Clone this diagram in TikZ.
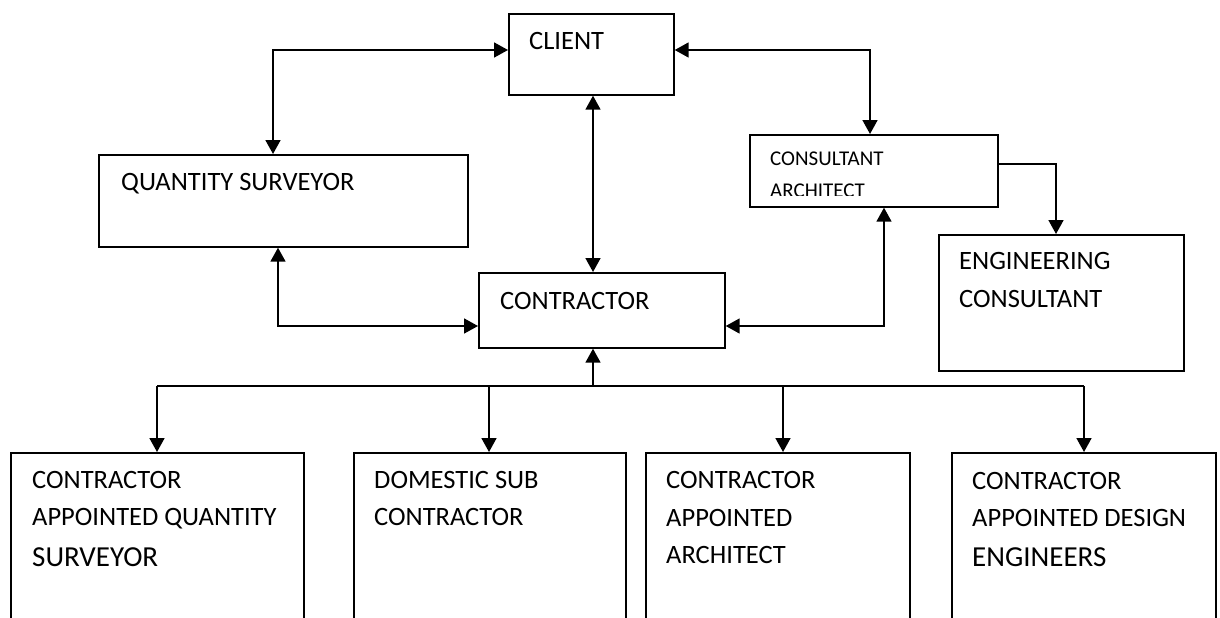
\documentclass[tikz,border=0pt]{standalone}
\usepackage{fontspec}
\setmainfont{Carlito}
\usetikzlibrary{arrows.meta}
\begin{document}
\begin{tikzpicture}[x=1pt,y=-1pt,
  box/.style={draw, line width=1.7pt, inner sep=0pt, anchor=north west},
  lbl/.style={inner sep=0pt, anchor=base west, font=\fontsize{26.5}{32}\selectfont},
  lblbig/.style={lbl, font=\fontsize{29}{35}\selectfont},
  lblsmall/.style={lbl, font=\fontsize{21}{25}\selectfont},
  tip/.tip={Triangle[length=14pt,width=15pt]},
  link/.style={line width=1.7pt, tip-tip},
  feed/.style={line width=1.7pt, -tip},
  wire/.style={line width=1.7pt}]
\useasboundingbox (0,0) rectangle (1220,618);
\clip (0,0) rectangle (1220,618);

% boxes
\node[box, minimum width=165pt, minimum height=81pt]  (client) at (508,13)  {};
\node[box, minimum width=369pt, minimum height=92pt]  (qs)     at (98,154)  {};
\node[box, minimum width=246pt, minimum height=75pt]  (contr)  at (478,272) {};
\node[box, minimum width=248pt, minimum height=72pt]  (cons)   at (749,134) {};
\node[box, minimum width=245pt, minimum height=136pt] (eng)    at (938,234) {};
\node[box, minimum width=293pt, minimum height=200pt] (caqs)   at (10,452)  {};
\node[box, minimum width=272pt, minimum height=200pt] (dsc)    at (353,452) {};
\node[box, minimum width=264pt, minimum height=200pt] (caa)    at (645,452) {};
\node[box, minimum width=264pt, minimum height=200pt] (cade)   at (951,452) {};

% labels
\node[lbl] (tclient) at (529,50)  {CLIENT};
\node[lbl] (tqs)     at (121,190) {QUANTITY SURVEYOR};
\node[lbl] (tcontr)  at (500,309) {CONTRACTOR};
\node[lblsmall] (tcons1) at (770,165) {CONSULTANT};
\begin{scope}
  \clip (749,134) rectangle (997,195.6);
  \node[lblsmall] (tcons2) at (770,197) {ARCHITECT};
\end{scope}
\node[lbl] (teng1) at (959,269) {ENGINEERING};
\node[lbl] (teng2) at (959,307) {CONSULTANT};

\node[lbl]    (tcaqs1) at (32,488) {CONTRACTOR};
\node[lbl]    (tcaqs2) at (32,525) {APPOINTED QUANTITY};
\node[lblbig] (tcaqs3) at (32,566) {SURVEYOR};

\node[lbl] (tdsc1) at (374,488) {DOMESTIC SUB};
\node[lbl] (tdsc2) at (374,525) {CONTRACTOR};

\node[lbl] (tcaa1) at (666,488) {CONTRACTOR};
\node[lbl] (tcaa2) at (666,526) {APPOINTED};
\node[lbl] (tcaa3) at (666,563) {ARCHITECT};

\node[lbl]    (tcade1) at (972,489) {CONTRACTOR};
\node[lbl]    (tcade2) at (972,526) {APPOINTED DESIGN};
\node[lblbig] (tcade3) at (972,566) {ENGINEERS};

% bends and junctions
\coordinate (kqs)   at (273,50);
\coordinate (kcons) at (870,50);
\coordinate (kmid)  at (593,200);
\coordinate (kqc)   at (278,326);
\coordinate (kcc)   at (884,326);
\coordinate (keng)  at (1056,164);
\coordinate (bus)   at (593,386);
\coordinate (busl)  at (157,386);
\coordinate (busr)  at (1084,386);
\coordinate (d2)    at (489,386);
\coordinate (d3)    at (783,386);

% connectors
\draw[link] (kqs |- qs.north) -- (kqs) -- (kqs -| client.west);
\draw[link] (kcons -| client.east) -- (kcons) -- (kcons |- cons.north);
\draw[link] (kmid |- client.south) -- (kmid |- contr.north);
\draw[link] (kqc |- qs.south) -- (kqc) -- (kqc -| contr.west);
\draw[link] (kcc |- cons.south) -- (kcc) -- (kcc -| contr.east);
\draw[feed] (keng -| cons.east) -- (keng) -- (keng |- eng.north);

\draw[feed] (bus) -- (bus |- contr.south);
\draw[wire] (busl) -- (busr);
\draw[feed] (busl) -- (busl |- caqs.north);
\draw[feed] (d2) -- (d2 |- dsc.north);
\draw[feed] (d3) -- (d3 |- caa.north);
\draw[feed] (busr) -- (busr |- cade.north);
\end{tikzpicture}
\end{document}
